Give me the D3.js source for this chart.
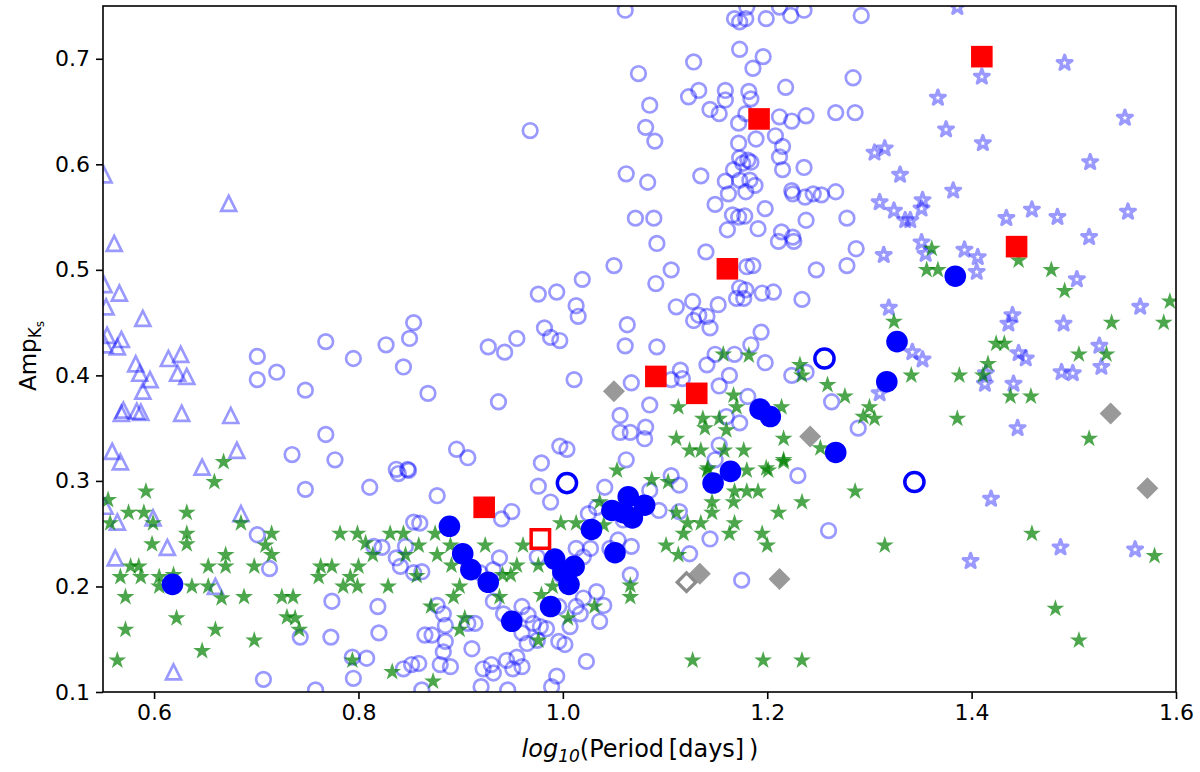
<!DOCTYPE html>
<html><head><meta charset="utf-8">
<script src="https://cdn.jsdelivr.net/npm/d3@7"></script>
<style>body{margin:0;background:#fff}svg{display:block}</style>
</head><body>
<svg id="c" width="1200" height="772"></svg>
<script>
const xTicks=[0.6,0.8,1.0,1.2,1.4,1.6];
const yTicks=[0.1,0.2,0.3,0.4,0.5,0.6,0.7];

const lightCircles=[[1.061,0.746],[1.074,0.686],[0.968,0.632],[1.081,0.635],[1.062,0.591],[1.071,0.549],
[1.180,0.749],[1.168,0.738],[1.173,0.735],[1.179,0.738],[1.199,0.738],[1.212,0.749],[1.223,0.741],[1.236,0.746],[1.292,0.741],[1.173,0.709],[1.128,0.697],[1.196,0.702],[1.186,0.691],[1.284,0.682],[1.218,0.673],[1.133,0.670],[1.123,0.664],[1.159,0.670],[1.159,0.661],[1.182,0.669],[1.184,0.662],[1.085,0.656],[1.144,0.652],[1.153,0.648],[1.172,0.639],[1.179,0.648],[1.212,0.645],[1.224,0.641],[1.238,0.646],[1.267,0.649],[1.286,0.649],[1.090,0.622],[1.172,0.620],[1.189,0.624],[1.208,0.627],[1.215,0.617],[1.173,0.606],[1.181,0.604],[1.184,0.602],[1.176,0.601],[1.212,0.607],[1.215,0.595],[1.236,0.597],[1.135,0.589],[1.083,0.583],[1.159,0.584],[1.167,0.595],[1.173,0.585],[1.183,0.585],[1.188,0.580],[1.162,0.572],[1.179,0.574],[1.149,0.562],[1.224,0.575],[1.225,0.572],[1.237,0.569],[1.245,0.572],[1.253,0.571],[1.267,0.574],[1.278,0.549],[1.166,0.552],[1.172,0.550],[1.178,0.551],[1.198,0.558],[1.238,0.547],[1.089,0.549],[1.161,0.538],[1.191,0.539],[1.214,0.536],[1.225,0.531],[1.092,0.525],
[1.211,0.527],[1.226,0.527],[1.140,0.517],[1.287,0.520],[1.106,0.500],[1.091,0.487],[1.180,0.503],[1.186,0.504],[1.248,0.500],[1.278,0.504],[1.173,0.483],[1.179,0.481],[1.177,0.473],[1.170,0.473],[1.195,0.478],[1.206,0.479],[1.234,0.472],[1.111,0.465],[1.127,0.470],[1.152,0.467],[1.128,0.452],[1.133,0.457],[1.141,0.456],[1.144,0.445],[1.194,0.441],[1.092,0.427],[1.184,0.429],[1.149,0.420],[1.168,0.420],[1.198,0.412],[1.141,0.410],[1.115,0.405],[1.117,0.397],[1.163,0.400],[1.224,0.400],[1.238,0.403],[1.106,0.396],[1.153,0.390],[1.085,0.372],[1.181,0.380],[1.263,0.375],[1.081,0.351],[1.080,0.340],[1.173,0.355],[1.160,0.361],[1.153,0.334],[1.149,0.320],[1.289,0.350],
[1.050,0.504],[0.976,0.477],[0.994,0.479],[1.019,0.491],[1.013,0.466],[1.015,0.456],[0.854,0.450],[0.850,0.435],[0.827,0.429],[0.844,0.408],[0.868,0.383],[0.927,0.427],[0.943,0.422],[0.955,0.435],[0.937,0.375],[0.982,0.445],[0.988,0.436],[0.997,0.433],[1.063,0.448],[1.061,0.428],[1.011,0.396],[1.067,0.393],[1.056,0.362],[1.056,0.346],[1.066,0.346],[0.896,0.330],[0.907,0.322],[0.997,0.333],[1.004,0.330],[0.979,0.317],[1.062,0.320],[0.837,0.311],[0.848,0.311],
[0.701,0.418],[0.701,0.396],[0.720,0.403],[0.768,0.432],[0.795,0.416],[0.748,0.386],[0.768,0.344],[0.735,0.325],[0.777,0.320],
[0.748,0.292],[0.811,0.294],[0.701,0.249],[0.713,0.217],[0.774,0.186],[0.819,0.181],[0.743,0.152],[0.773,0.152],[0.820,0.156],[0.794,0.133],[0.808,0.132],[0.795,0.113],[0.707,0.112],[0.758,0.102],
[0.839,0.307],[0.849,0.310],[0.877,0.286],[0.976,0.295],[0.988,0.280],[1.041,0.294],[0.950,0.271],[0.940,0.264],[0.854,0.261],[0.860,0.260],[0.815,0.238],[0.823,0.237],[0.837,0.227],[0.841,0.219],[0.846,0.238],[0.854,0.213],[0.862,0.214],[0.877,0.182],[0.883,0.174],[0.885,0.163],[0.865,0.154],[0.872,0.154],[0.885,0.148],[0.883,0.138],[0.911,0.141],[0.907,0.165],[0.914,0.165],[0.932,0.186],[0.942,0.174],[0.960,0.181],[0.966,0.173],[0.971,0.165],[0.978,0.162],[0.984,0.160],[0.960,0.156],[0.965,0.146],[0.975,0.149],[0.996,0.148],[1.002,0.145],[1.007,0.162],[1.013,0.181],[1.017,0.174],[1.020,0.189],[1.033,0.195],[1.040,0.182],[1.036,0.167],[1.023,0.129],[0.994,0.115],[0.989,0.105],[0.945,0.130],[0.955,0.133],[0.951,0.122],[0.960,0.124],[0.922,0.122],[0.930,0.126],[0.932,0.118],[0.920,0.105],[0.946,0.102],[0.859,0.127],[0.852,0.126],[0.844,0.122],[0.880,0.126],[0.890,0.124],[0.862,0.102],[1.066,0.211],[1.067,0.238],[1.054,0.244],[1.046,0.236],[1.027,0.236],[1.013,0.236],[1.020,0.228],[0.996,0.181],[1.033,0.275],[1.025,0.269],[1.059,0.263],[0.998,0.211],[0.975,0.228],[0.938,0.227],[0.932,0.216],[0.919,0.213],
[1.085,0.291],[1.094,0.272],[1.106,0.305],[1.114,0.296],[1.114,0.271],[1.144,0.245],[1.124,0.231],[1.175,0.206],[1.260,0.253],[1.230,0.305]];

const lightTriangles=[[0.551,0.590],[0.673,0.563],[0.561,0.525],[0.551,0.486],[0.566,0.478],[0.553,0.465],[0.589,0.454],[0.554,0.438],[0.568,0.434],[0.564,0.427],[0.552,0.429],[0.582,0.411],[0.586,0.402],[0.596,0.396],[0.589,0.385],[0.614,0.416],[0.626,0.420],[0.623,0.402],[0.632,0.399],[0.570,0.367],[0.568,0.364],[0.583,0.366],[0.587,0.365],[0.627,0.364],[0.675,0.362],[0.681,0.329],[0.559,0.328],[0.567,0.318],[0.647,0.313],[0.552,0.276],[0.564,0.261],[0.599,0.265],[0.562,0.227],[0.613,0.237],[0.685,0.269],[0.660,0.200],[0.619,0.119]];

const lightStars=[[1.386,0.749],[1.410,0.683],[1.491,0.696],[1.367,0.663],[1.375,0.633],[1.411,0.620],[1.550,0.644],[1.516,0.602],[1.382,0.575],[1.352,0.566],[1.351,0.558],[1.434,0.549],[1.459,0.557],[1.484,0.550],[1.553,0.555],[1.515,0.531],[1.340,0.547],[1.305,0.611],[1.315,0.615],[1.330,0.590],[1.310,0.564],[1.324,0.556],[1.335,0.547],[1.351,0.526],[1.355,0.515],[1.393,0.519],[1.406,0.512],[1.405,0.498],[1.503,0.491],[1.565,0.465],[1.440,0.457],[1.436,0.449],[1.490,0.449],[1.525,0.428],[1.527,0.408],[1.446,0.421],[1.453,0.416],[1.488,0.403],[1.499,0.402],[1.342,0.422],[1.352,0.415],[1.414,0.402],[1.413,0.392],[1.441,0.392],[1.445,0.350],[1.314,0.514],[1.319,0.464],[1.310,0.383],[1.419,0.283],[1.399,0.224],[1.487,0.237],[1.560,0.235]];

const greenStars=[[0.668,0.318],[0.659,0.299],[0.592,0.290],[0.575,0.270],[0.590,0.270],[0.599,0.260],[0.557,0.260],[0.632,0.270],[0.632,0.250],[0.632,0.240],[0.598,0.240],[0.685,0.260],[0.715,0.250],[0.709,0.239],[0.715,0.230],[0.670,0.230],[0.653,0.219],[0.670,0.219],[0.698,0.219],[0.577,0.219],[0.585,0.219],[0.567,0.209],[0.587,0.209],[0.605,0.209],[0.605,0.200],[0.619,0.211],[0.637,0.200],[0.653,0.200],[0.666,0.189],[0.688,0.190],[0.572,0.190],[0.622,0.170],[0.660,0.159],[0.572,0.159],[0.698,0.149],[0.647,0.139],[0.564,0.130],[0.725,0.190],[0.736,0.190],[0.730,0.171],[0.738,0.170],[0.742,0.159],[0.782,0.250],[0.799,0.250],[0.807,0.241],[0.763,0.219],[0.774,0.219],[0.761,0.209],[0.800,0.219],[0.792,0.209],[0.785,0.200],[0.799,0.200],[0.794,0.130],[0.555,0.282],
[1.053,0.310],[1.036,0.280],[0.998,0.260],[1.013,0.260],[0.831,0.250],[0.844,0.250],[0.875,0.250],[0.859,0.239],[0.924,0.239],[0.961,0.239],[0.814,0.230],[0.846,0.230],[0.877,0.230],[0.890,0.239],[0.891,0.220],[0.955,0.220],[0.976,0.220],[0.941,0.211],[0.949,0.211],[0.857,0.210],[0.829,0.200],[0.899,0.200],[0.990,0.200],[0.938,0.190],[0.893,0.190],[0.979,0.192],[0.871,0.181],[1.005,0.170],[1.031,0.181],[1.066,0.201],[1.066,0.190],[0.904,0.170],[0.899,0.159],[0.976,0.149],[0.833,0.119],[0.873,0.110],[1.040,0.258],
[1.087,0.301],[1.103,0.299],[1.141,0.310],[1.180,0.310],[1.201,0.310],[1.216,0.318],[1.168,0.290],[1.180,0.290],[1.191,0.290],[1.234,0.280],[1.286,0.290],[1.146,0.280],[1.167,0.280],[1.111,0.270],[1.146,0.270],[1.211,0.270],[1.122,0.260],[1.135,0.260],[1.168,0.260],[1.118,0.250],[1.163,0.250],[1.195,0.250],[1.101,0.239],[1.200,0.239],[1.113,0.230],[1.315,0.239],[1.127,0.130],[1.196,0.130],[1.234,0.130],
[1.157,0.420],[1.182,0.419],[1.232,0.410],[1.234,0.400],[1.259,0.391],[1.276,0.380],[1.324,0.451],[1.341,0.400],[1.300,0.370],[1.294,0.361],[1.305,0.359],[1.113,0.370],[1.167,0.381],[1.170,0.370],[1.214,0.370],[1.137,0.359],[1.153,0.359],[1.139,0.350],[1.160,0.348],[1.111,0.340],[1.124,0.329],[1.135,0.329],[1.158,0.329],[1.177,0.329],[1.216,0.340],[1.216,0.320],[1.252,0.331],[1.199,0.312],[1.142,0.312],
[1.361,0.520],[1.356,0.500],[1.367,0.500],[1.446,0.509],[1.478,0.500],[1.491,0.480],[1.594,0.470],[1.588,0.450],[1.537,0.450],[1.424,0.430],[1.432,0.430],[1.505,0.420],[1.532,0.420],[1.416,0.411],[1.411,0.400],[1.388,0.400],[1.438,0.380],[1.458,0.380],[1.386,0.359],[1.515,0.340],
[1.459,0.250],[1.579,0.229],[1.482,0.179],[1.505,0.149]];

const blueFilled=[[0.618,0.202],[0.889,0.257],[0.902,0.231],[0.910,0.216],[0.927,0.204],[0.950,0.167],[0.988,0.181],[0.992,0.226],[1.000,0.214],[1.011,0.219],[1.006,0.202],[1.028,0.254],[1.051,0.232],[1.048,0.272],[1.059,0.270],[1.064,0.285],[1.068,0.265],[1.080,0.277],[1.147,0.298],[1.164,0.309],[1.193,0.368],[1.203,0.361],[1.267,0.327],[1.317,0.394],[1.327,0.432],[1.384,0.494]];
const blueOpen=[[1.004,0.298],[1.256,0.416],[1.344,0.299]];
const redFilled=[[0.923,0.275],[1.091,0.399],[1.131,0.383],[1.161,0.501],[1.192,0.643],[1.410,0.702],[1.444,0.522]];
const redOpen=[[0.978,0.245]];
const grayFilled=[[1.050,0.385],[1.134,0.212],[1.212,0.207],[1.242,0.342],[1.536,0.364],[1.572,0.293]];
const grayOpen=[[1.121,0.204]];

const L=103,R=1176,T=6,B=692;
const x=d3.scaleLinear().domain([0.55,1.6]).range([L,R]);
const y=d3.scaleLinear().domain([0.1,0.75]).range([B,T]);
const svg=d3.select('#c');
svg.append('defs').append('clipPath').attr('id','clip').append('rect')
  .attr('x',L).attr('y',T).attr('width',R-L).attr('height',B-T);
const g=svg.append('g').attr('clip-path','url(#clip)');

function starPath(Ro){
  const ri=Ro*0.381966;let p='';
  for(let i=0;i<10;i++){const r=i%2?ri:Ro;const a=-Math.PI/2+i*Math.PI/5;
    p+=(i?'L':'M')+(r*Math.cos(a)).toFixed(2)+','+(r*Math.sin(a)).toFixed(2);}
  return p+'Z';
}
function triPath(r){return `M0,${-r}L${-r},${r}L${r},${r}Z`;}
function diaPath(r){return `M0,${-r}L${r},0L0,${r}L${-r},0Z`;}
function sqPath(h){return `M${-h},${-h}L${h},${-h}L${h},${h}L${-h},${h}Z`;}

const LB='rgba(0,0,255,0.4)';
function pts(data,path,attrs){
  const s=g.append('g').selectAll('path').data(data).join('path')
   .attr('d',path).attr('transform',d=>`translate(${x(d[0])},${y(d[1])})`);
  for(const k in attrs) s.attr(k,attrs[k]);
}
g.append('g').selectAll('circle').data(lightCircles).join('circle')
 .attr('cx',d=>x(d[0])).attr('cy',d=>y(d[1])).attr('r',7.3)
 .attr('fill','none').attr('stroke',LB).attr('stroke-width',2.7);
pts(lightTriangles,triPath(7.5),{fill:'none',stroke:LB,'stroke-width':2.7,'stroke-linejoin':'miter'});
pts(lightStars,starPath(7.8),{fill:'none',stroke:LB,'stroke-width':3.2,'stroke-linejoin':'round'});
pts(greenStars,starPath(9.4),{fill:'rgba(0,128,0,0.7)',stroke:'none'});
pts(grayFilled,diaPath(11),{fill:'#999999'});
pts(grayOpen,diaPath(9.3),{fill:'none',stroke:'#8c8c8c','stroke-width':3.3});
g.append('g').selectAll('circle').data(blueFilled).join('circle')
 .attr('cx',d=>x(d[0])).attr('cy',d=>y(d[1])).attr('r',10.8).attr('fill','#0000ff');
g.append('g').selectAll('circle').data(blueOpen).join('circle')
 .attr('cx',d=>x(d[0])).attr('cy',d=>y(d[1])).attr('r',9.6)
 .attr('fill','none').attr('stroke','#0000ff').attr('stroke-width',3.5);
pts(redFilled,sqPath(10.8),{fill:'#ff0000'});
pts(redOpen,sqPath(9.2),{fill:'none',stroke:'#ff0000','stroke-width':3.5});

// frame
svg.append('rect').attr('x',L).attr('y',T).attr('width',R-L).attr('height',B-T)
 .attr('fill','none').attr('stroke','#000').attr('stroke-width',1.6);
const font='DejaVu Sans, sans-serif';
const xa=svg.append('g').attr('transform',`translate(0,${B})`)
 .call(d3.axisBottom(x).tickValues(xTicks).tickFormat(d3.format('.1f')).tickSize(7).tickPadding(5));
const ya=svg.append('g').attr('transform',`translate(${L},0)`)
 .call(d3.axisLeft(y).tickValues(yTicks).tickFormat(d3.format('.1f')).tickSize(7).tickPadding(6));
[xa,ya].forEach(a=>{a.select('.domain').remove();
 a.selectAll('line').attr('stroke','#000').attr('stroke-width',1.6);
 a.selectAll('text').attr('font-family',font).attr('font-size',22).attr('fill','#000');});

const xl=svg.append('text').attr('x',640).attr('y',757).attr('text-anchor','middle')
 .attr('font-family',font).attr('font-size',24).attr('fill','#000');
xl.append('tspan').attr('font-style','italic').text('log');
xl.append('tspan').attr('font-style','italic').attr('font-size',17).attr('dy',5).text('10');
xl.append('tspan').attr('dy',-5).text('(Period\u2009[days]\u2009)');

const yl=svg.append('text').attr('transform','translate(36,356) rotate(-90)').attr('text-anchor','middle')
 .attr('font-family',font).attr('font-size',23).attr('fill','#000');
yl.append('tspan').text('Amp');
yl.append('tspan').attr('font-size',17).attr('dy',5).text('K');
yl.append('tspan').attr('font-size',12).attr('dy',3).text('s');
</script>
</body></html>
